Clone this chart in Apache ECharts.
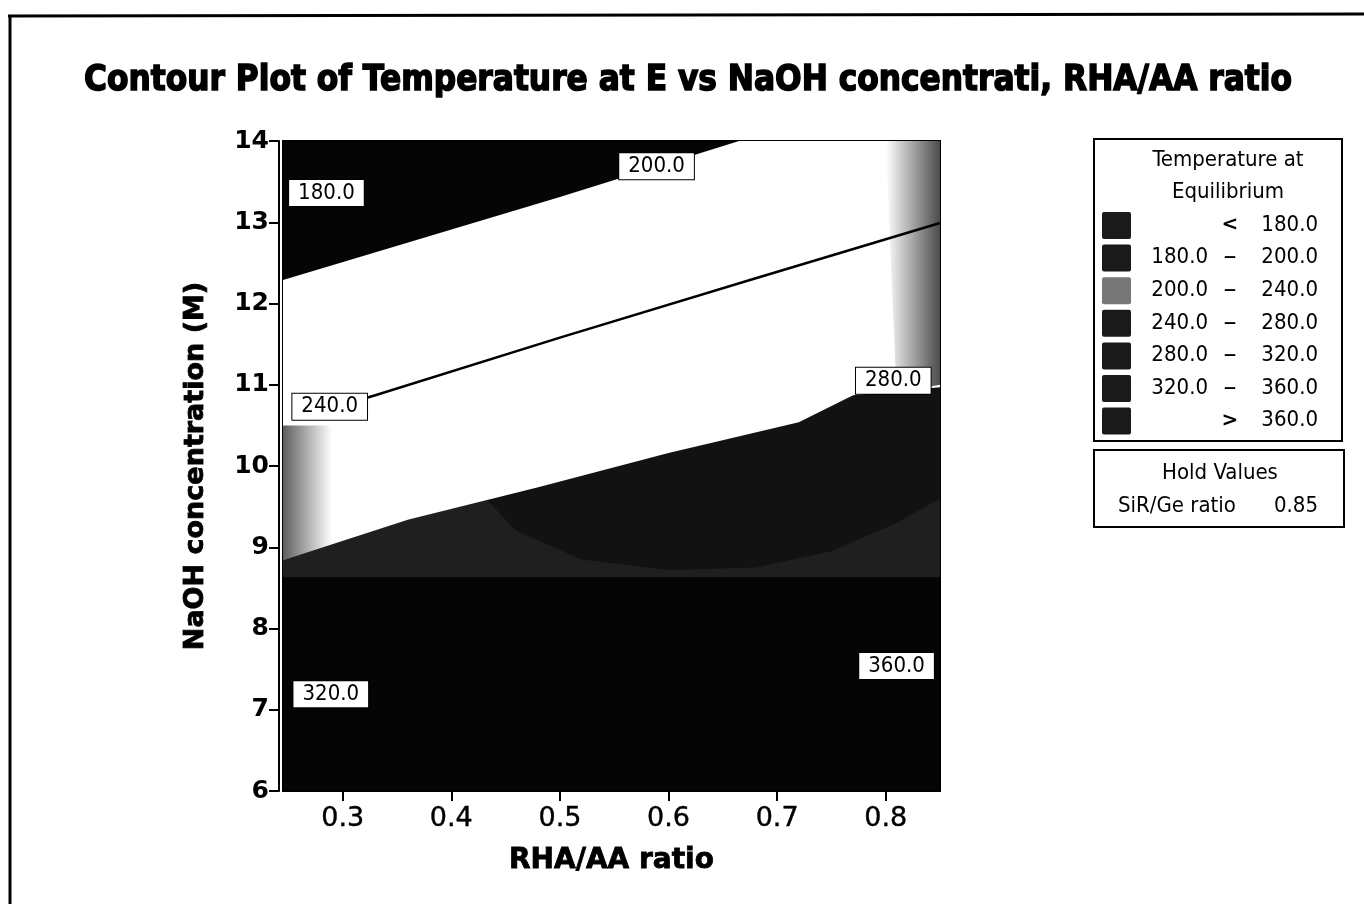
<!DOCTYPE html>
<html>
<head>
<meta charset="utf-8">
<script src="https://cdn.jsdelivr.net/npm/echarts@6/dist/echarts.min.js"></script>
<style>
html, body { margin: 0; padding: 0; background: #fff; }
#main { width: 1364px; height: 904px; }
</style>
</head>
<body>
<div id="main"></div>
<script>
// axis ticks
var xTicks = [0.3, 0.4, 0.5, 0.6, 0.7, 0.8];
var yTicks = [6, 7, 8, 9, 10, 11, 12, 13, 14];

// contour boundaries: [RHA/AA ratio, NaOH (M)]
var c200 = [[0.245, 12.29], [0.50, 13.31], [0.665, 14.0]];
var c240 = [[0.27, 10.63], [0.33, 10.87], [0.50, 11.58], [0.675, 12.29], [0.85, 12.99]];
var c280 = [[0.245, 8.84], [0.36, 9.34], [0.48, 9.74], [0.60, 10.16], [0.72, 10.54], [0.77, 10.87], [0.85, 10.97]];
var c320 = [[0.245, 8.63], [0.85, 8.63]];
// darker band inside the 280-320 zone
var darkBand = [[0.43, 9.62], [0.46, 9.2], [0.52, 8.85], [0.60, 8.72], [0.68, 8.75], [0.75, 8.95], [0.81, 9.3], [0.85, 9.6]];
// speckled edges
var speckLeft = [[0.245, 10.5], [0.29, 10.5], [0.29, 9.0], [0.245, 8.84]];
var speckRight = [[0.80, 14.0], [0.85, 14.0], [0.85, 11.0], [0.81, 10.9]];

// contour labels [x, y, text]
var contourLabels = [
    [0.285, 13.36, '180.0'],
    [0.589, 13.69, '200.0'],
    [0.288, 10.73, '240.0'],
    [0.807, 11.05, '280.0'],
    [0.289, 7.19, '320.0'],
    [0.810, 7.54, '360.0']
];

// legend rows
var legendSep = ['<', '\u2013', '\u2013', '\u2013', '\u2013', '\u2013', '>'];
var legendLow = ['', '180.0', '200.0', '240.0', '280.0', '320.0', ''];
var legendHigh = ['180.0', '200.0', '240.0', '280.0', '320.0', '360.0', '360.0'];
var legendFill = ['#1a1a1a', '#1a1a1a', '#777', '#1a1a1a', '#1a1a1a', '#1a1a1a', '#1a1a1a'];

var titleText = 'Contour Plot of Temperature at E vs NaOH concentrati, RHA/AA ratio';
var narrow = '"DejaVu Sans Condensed", "DejaVu Sans", sans-serif';

var chart = echarts.init(document.getElementById('main'));

function polygon(points, fill, z) {
    return {
        type: 'custom',
        silent: true,
        z: z,
        data: [0],
        clip: true,
        renderItem: function (params, api) {
            return {
                type: 'polygon',
                shape: { points: points.map(function (p) { return api.coord(p); }) },
                style: { fill: fill }
            };
        }
    };
}

// squeeze the title to the width it takes in the picture
var ctx = document.createElement('canvas').getContext('2d');
ctx.font = 'bold 36px "DejaVu Sans"';
var titleScale = 1208 / ctx.measureText(titleText).width;

var whiteZone = c200.concat([[0.85, 14]], c280.slice().reverse());
var grayZone = c280.concat([[0.85, 8.63]], c320.slice().reverse());
var bandZone = darkBand.concat(c280.slice(3).reverse());

var graphics = [
    { type: 'line', shape: { x1: 8, y1: 16, x2: 1364, y2: 14 }, style: { stroke: '#000', lineWidth: 3 } },
    { type: 'line', shape: { x1: 10, y1: 15, x2: 10, y2: 904 }, style: { stroke: '#000', lineWidth: 3 } },
    {
        type: 'text', x: 688, y: 81, scaleX: titleScale,
        style: { text: titleText, font: 'bold 36px "DejaVu Sans"', textAlign: 'center', textVerticalAlign: 'middle',
            fill: '#000', stroke: '#000', lineWidth: 1.6 }
    },
    { type: 'rect', shape: { x: 1094, y: 139, width: 248, height: 302 }, style: { fill: '#fff', stroke: '#000', lineWidth: 2 } },
    { type: 'text', x: 1228, y: 160, style: { text: 'Temperature at', font: '22px ' + narrow, textAlign: 'center', textVerticalAlign: 'middle', fill: '#000' } },
    { type: 'text', x: 1228, y: 192, style: { text: 'Equilibrium', font: '22px ' + narrow, textAlign: 'center', textVerticalAlign: 'middle', fill: '#000' } },
    { type: 'rect', shape: { x: 1094, y: 450, width: 250, height: 77 }, style: { fill: '#fff', stroke: '#000', lineWidth: 2 } },
    { type: 'text', x: 1220, y: 473, style: { text: 'Hold Values', font: '22px ' + narrow, textAlign: 'center', textVerticalAlign: 'middle', fill: '#000' } },
    { type: 'text', x: 1118, y: 506, style: { text: 'SiR/Ge ratio', font: '22px ' + narrow, textAlign: 'left', textVerticalAlign: 'middle', fill: '#000' } },
    { type: 'text', x: 1318, y: 506, style: { text: '0.85', font: '22px ' + narrow, textAlign: 'right', textVerticalAlign: 'middle', fill: '#000' } }
];
for (var i = 0; i < legendHigh.length; i++) {
    var cy = 225 + i * 32.6;
    var isDash = legendSep[i] === '\u2013';
    graphics.push({ type: 'rect', shape: { x: 1102, y: cy - 13, width: 29, height: 27, r: 2 }, style: { fill: legendFill[i] } });
    graphics.push({ type: 'text', x: 1208, y: cy, style: { text: legendLow[i], font: '22px ' + narrow, textAlign: 'right', textVerticalAlign: 'middle', fill: '#000' } });
    graphics.push({ type: 'text', x: 1230, y: cy, style: { text: legendSep[i], font: isDash ? '26px "DejaVu Sans"' : 'bold 20px "DejaVu Sans"', textAlign: 'center', textVerticalAlign: 'middle', fill: '#000' } });
    graphics.push({ type: 'text', x: 1318, y: cy, style: { text: legendHigh[i], font: '22px ' + narrow, textAlign: 'right', textVerticalAlign: 'middle', fill: '#000' } });
}

var option = {
    backgroundColor: '#fff',
    animation: false,
    grid: {
        left: 283, right: 424, top: 141, bottom: 113,
        show: true, backgroundColor: '#050505', borderColor: '#000', borderWidth: 2
    },
    xAxis: {
        type: 'value', min: 0.245, max: 0.85,
        name: 'RHA/AA ratio', nameLocation: 'middle', nameGap: 56,
        nameTextStyle: { fontFamily: 'DejaVu Sans', fontWeight: 'bold', fontSize: 28, color: '#000',
            textBorderColor: '#000', textBorderWidth: 0.8 },
        axisLine: { show: true, lineStyle: { color: '#000', width: 2 } },
        axisTick: { show: true, length: 10, lineStyle: { color: '#000', width: 2 }, customValues: xTicks },
        axisLabel: { customValues: xTicks, margin: 14, fontFamily: 'DejaVu Sans', fontSize: 27, color: '#000',
            textBorderColor: '#000', textBorderWidth: 0.4,
            formatter: function (v) { return v.toFixed(1); } },
        splitLine: { show: false }
    },
    yAxis: {
        type: 'value', min: 6, max: 14, interval: 1, offset: 4,
        name: 'NaOH concentration (M)', nameLocation: 'middle', nameGap: 70,
        nameTextStyle: { fontFamily: 'DejaVu Sans', fontWeight: 'bold', fontSize: 27, color: '#000',
            textBorderColor: '#000', textBorderWidth: 0.8 },
        axisLine: { show: true, lineStyle: { color: '#000', width: 2 } },
        axisTick: { show: true, length: 10, lineStyle: { color: '#000', width: 2 } },
        axisLabel: { margin: 10, fontFamily: 'DejaVu Sans', fontWeight: 'bold', fontSize: 25, color: '#000',
            formatter: function (v) { return yTicks.indexOf(v) >= 0 ? String(v) : ''; } },
        splitLine: { show: false }
    },
    graphic: graphics,
    series: [
        polygon(grayZone, '#1f1f1f', 2),
        polygon(bandZone, '#121212', 3),
        polygon(whiteZone, '#ffffff', 4),
        polygon(speckLeft, new echarts.graphic.LinearGradient(0, 0, 1, 0, [
            { offset: 0, color: 'rgba(40,40,40,0.75)' }, { offset: 1, color: 'rgba(40,40,40,0)' }]), 5),
        polygon(speckRight, new echarts.graphic.LinearGradient(1, 0, 0, 0, [
            { offset: 0, color: 'rgba(30,30,30,0.8)' }, { offset: 1, color: 'rgba(30,30,30,0)' }]), 5),
        {
            type: 'line', data: c240, showSymbol: false, silent: true, z: 6,
            lineStyle: { color: '#000', width: 2.5 }
        },
        {
            type: 'scatter', data: contourLabels, symbolSize: 0, silent: true, z: 7,
            itemStyle: { opacity: 1 },
            label: {
                show: true, position: 'inside', formatter: function (p) { return p.value[2]; },
                fontFamily: narrow, fontSize: 22, color: '#000', opacity: 1,
                backgroundColor: '#fff', borderColor: '#000', borderWidth: 1, padding: [3, 9, 1, 9]
            }
        }
    ]
};

chart.setOption(option);
</script>
</body>
</html>
